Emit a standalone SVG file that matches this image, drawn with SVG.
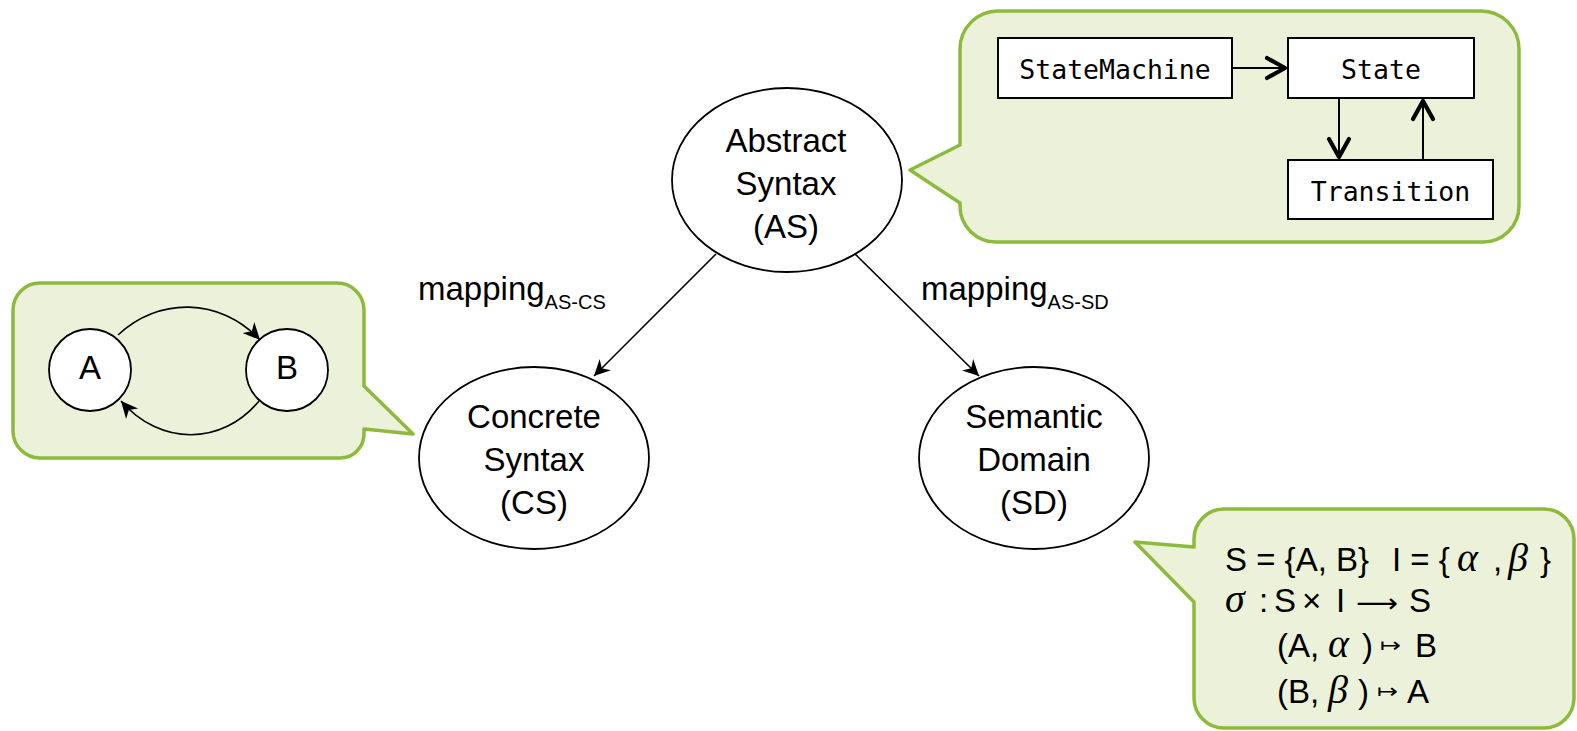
<svg xmlns="http://www.w3.org/2000/svg" width="1577" height="731" viewBox="0 0 1577 731">
  <style>
    .bubble { fill: #EBF2D9; stroke: #8DBA3C; stroke-width: 3.5; stroke-linejoin: round; }
    .node { fill: #ffffff; stroke: #000000; stroke-width: 1.8; }
    .box { fill: #ffffff; stroke: #000000; stroke-width: 2; }
    .lbl { font-family: "Liberation Sans", Arial, sans-serif; font-size: 33px; fill: #000; }
    .mono { font-family: "DejaVu Sans Mono", "Liberation Mono", monospace; font-size: 26.5px; fill: #000; }
    .math { font-family: "Liberation Sans", Arial, sans-serif; font-size: 33px; fill: #000; }
    .greek { font-family: "Liberation Serif", "DejaVu Serif", serif; font-style: italic; font-size: 40px; fill: #000; }
    .sym { font-family: "DejaVu Sans", sans-serif; fill: #000; }
    .edge { fill: none; stroke: #000; stroke-width: 1.6; }
    .uml { fill: none; stroke: #000; stroke-width: 2; }
  </style>
  <defs>
    <marker id="stealth" markerUnits="userSpaceOnUse" markerWidth="18" markerHeight="16" refX="16" refY="8" orient="auto" overflow="visible">
      <path d="M0,0 L16,8 L0,16 L5,8 Z" fill="#000"/>
    </marker>
    <marker id="stealthSmall" markerUnits="userSpaceOnUse" markerWidth="18" markerHeight="16" refX="17" refY="8" orient="auto" overflow="visible">
      <path d="M0,0 L17,8 L0,16 L5,8 Z" fill="#000"/>
    </marker>
    <marker id="vee" markerUnits="userSpaceOnUse" markerWidth="22" markerHeight="24" refX="19" refY="11" orient="auto" overflow="visible">
      <path d="M1,1 L19,11 L1,21" fill="none" stroke="#000" stroke-width="4.2" stroke-linecap="round" stroke-linejoin="round"/>
    </marker>
  </defs>

  <rect width="1577" height="731" fill="#ffffff"/>

  <!-- callout: metamodel -->
  <g id="callout-metamodel">
    <path class="bubble" d="M998,11 H1481 A38,38 0 0 1 1519,49 V206 A36,36 0 0 1 1483,242 H996 A36,36 0 0 1 960,206 V203 L910,170 L960,145 V49 A38,38 0 0 1 998,11 Z"/>
    <g id="box-statemachine">
      <rect class="box" x="998" y="38" width="234" height="60"/>
      <text class="mono" x="1115" y="79" text-anchor="middle">StateMachine</text>
    </g>
    <g id="box-state">
      <rect class="box" x="1288" y="38" width="186" height="60"/>
      <text class="mono" x="1381" y="79" text-anchor="middle">State</text>
    </g>
    <g id="box-transition">
      <rect class="box" x="1288" y="160" width="205" height="59"/>
      <text class="mono" x="1390.5" y="201" text-anchor="middle">Transition</text>
    </g>
    <g id="uml-links">
      <line class="uml" x1="1233" y1="68" x2="1285" y2="68" marker-end="url(#vee)"/>
      <line class="uml" x1="1339" y1="99" x2="1339" y2="157" marker-end="url(#vee)"/>
      <line class="uml" x1="1423" y1="159" x2="1423" y2="101" marker-end="url(#vee)"/>
    </g>
  </g>

  <!-- callout: state graph -->
  <g id="callout-graph">
    <path class="bubble" d="M40,283 H337 A27,27 0 0 1 364,310 V386 L413,434 L364,429 V434 A24,24 0 0 1 340,458 H40 A27,27 0 0 1 13,431 V310 A27,27 0 0 1 40,283 Z"/>
    <g id="state-a">
      <circle class="node" cx="90" cy="370" r="41"/>
      <text class="lbl" x="90" y="379" text-anchor="middle" font-size="26">A</text>
    </g>
    <g id="state-b">
      <circle class="node" cx="287" cy="370" r="41"/>
      <text class="lbl" x="287" y="379" text-anchor="middle" font-size="26">B</text>
    </g>
    <g id="graph-edges">
      <path class="edge" d="M118,335 C158,297 220,297 260,340" marker-end="url(#stealthSmall)"/>
      <path class="edge" d="M259,401 C222,446 160,446 121,401" marker-end="url(#stealthSmall)"/>
    </g>
  </g>

  <!-- callout: semantic domain -->
  <g id="callout-semantics">
    <path class="bubble" d="M1224,509 H1544 A30,30 0 0 1 1574,539 V698 A30,30 0 0 1 1544,728 H1224 A30,30 0 0 1 1194,698 V602 L1135,542 L1194,547 V539 A30,30 0 0 1 1224,509 Z"/>
    <text class="math" x="1225" y="571">S = {A, B}</text>
    <text class="math" x="1392" y="571">I = {</text>
    <text class="greek" x="1457" y="571">α</text>
    <text class="math" x="1493" y="571">,</text>
    <text class="greek" x="1508" y="571">β</text>
    <text class="math" x="1540" y="571">}</text>

    <text class="greek" x="1225" y="612">σ</text>
    <text class="math" x="1259" y="612">:</text>
    <text class="math" x="1274" y="612">S</text>
    <text class="math" x="1302" y="612">×</text>
    <text class="math" x="1336" y="612">I</text>
    <text class="sym" x="1356" y="612" font-size="26" textLength="42" lengthAdjust="spacingAndGlyphs">⟶</text>
    <text class="math" x="1409" y="612">S</text>

    <text class="math" x="1277" y="657">(A,</text>
    <text class="greek" x="1328" y="657">α</text>
    <text class="math" x="1362" y="657">)</text>
    <text class="sym" x="1380" y="652" font-size="20" textLength="21" lengthAdjust="spacingAndGlyphs">↦</text>
    <text class="math" x="1415" y="657">B</text>

    <text class="math" x="1277" y="703">(B,</text>
    <text class="greek" x="1328" y="703">β</text>
    <text class="math" x="1358" y="703">)</text>
    <text class="sym" x="1377" y="698" font-size="20" textLength="21" lengthAdjust="spacingAndGlyphs">↦</text>
    <text class="math" x="1407" y="703">A</text>
  </g>

  <!-- main nodes -->
  <g id="node-as">
    <ellipse class="node" cx="787" cy="180" rx="115" ry="92"/>
    <text class="lbl" x="786" y="152" text-anchor="middle">Abstract</text>
    <text class="lbl" x="786" y="195" text-anchor="middle">Syntax</text>
    <text class="lbl" x="786" y="238" text-anchor="middle">(AS)</text>
  </g>
  <g id="node-cs">
    <ellipse class="node" cx="534" cy="458" rx="115" ry="91"/>
    <text class="lbl" x="534" y="428" text-anchor="middle">Concrete</text>
    <text class="lbl" x="534" y="471" text-anchor="middle">Syntax</text>
    <text class="lbl" x="534" y="514" text-anchor="middle">(CS)</text>
  </g>
  <g id="node-sd">
    <ellipse class="node" cx="1034" cy="458" rx="115" ry="91"/>
    <text class="lbl" x="1034" y="428" text-anchor="middle">Semantic</text>
    <text class="lbl" x="1034" y="471" text-anchor="middle">Domain</text>
    <text class="lbl" x="1034" y="514" text-anchor="middle">(SD)</text>
  </g>

  <!-- mappings -->
  <g id="connectors">
    <line class="edge" x1="716" y1="254" x2="594" y2="376" marker-end="url(#stealth)"/>
    <line class="edge" x1="855" y1="254" x2="979" y2="376" marker-end="url(#stealth)"/>
    <text class="lbl" x="418" y="300" font-size="32">mapping<tspan font-size="20" dy="9">AS-CS</tspan></text>
    <text class="lbl" x="921" y="300" font-size="32">mapping<tspan font-size="20" dy="9">AS-SD</tspan></text>
  </g>
</svg>
